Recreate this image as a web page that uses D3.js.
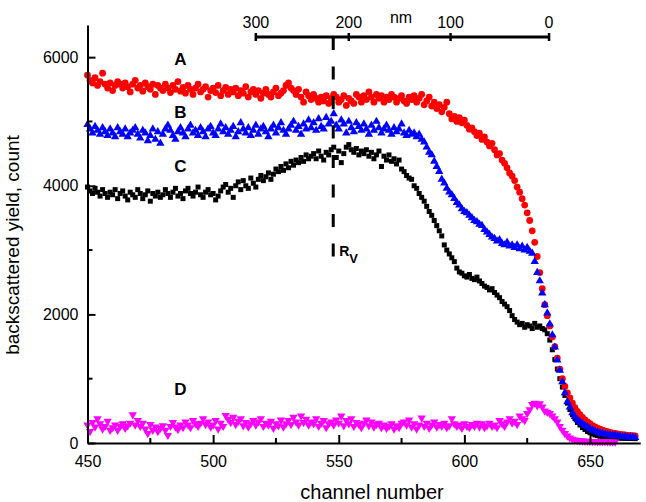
<!DOCTYPE html>
<head>
  <meta charset="utf-8">
  <style>
    body { margin: 0; background: #fff; }
    text { font-family: Arial, 'Liberation Sans', sans-serif; fill: black; }
    .axis path, .axis line { stroke: black; stroke-width: 2; }
    .axis text { font-size: 16px; }
  </style>
</head>
<body>
  <script src="https://cdn.jsdelivr.net/npm/d3@7"></script>
  <script>
    const width = 646;
    const height = 502;

    // channel where each series starts (one point per channel)
    const startChannel = 450;

    // A (red circles)
    const seriesA = [
      5720, 5640, 5600, 5680, 5560, 5620, 5750, 5580, 5520, 5600,
      5480, 5560, 5620, 5580, 5520, 5600, 5540, 5460, 5580, 5640,
      5520, 5560, 5470, 5600, 5540, 5500, 5580, 5420, 5560, 5520,
      5480, 5580, 5520, 5450, 5560, 5500, 5620, 5470, 5530, 5440,
      5560, 5500, 5420, 5520, 5580, 5460, 5500, 5540, 5380, 5480,
      5520, 5450, 5560, 5400, 5480, 5530, 5420, 5500, 5460, 5520,
      5400, 5480, 5440, 5540, 5380, 5460, 5500, 5420, 5480, 5360,
      5440, 5500, 5420, 5380, 5460, 5520, 5400, 5440, 5480, 5560,
      5600, 5520, 5480, 5420, 5500, 5380, 5300, 5460, 5400, 5340,
      5420, 5360, 5300, 5380, 5320, 5400, 5280, 5360, 5420, 5380,
      5300, 5340, 5400, 5250, 5360, 5320, 5280, 5420, 5380, 5300,
      5400, 5340, 5460, 5380, 5300, 5420, 5360, 5400, 5300, 5380,
      5340, 5420, 5380, 5300, 5360, 5400, 5320, 5280, 5380, 5340,
      5400, 5300, 5360, 5420, 5260, 5320, 5380, 5240, 5300, 5200,
      5260, 5150, 5220, 5300, 5120, 5040, 5080, 5000, 5060, 4980,
      5020, 4940, 4880, 4900, 4840, 4780, 4820, 4720, 4760, 4680,
      4620, 4660, 4560, 4480, 4500, 4400, 4350, 4280, 4200, 4150,
      4080, 3980, 3900, 3800, 3700, 3580, 3460, 3300, 3120, 2900,
      2650, 2400, 2150, 1980, 1820, 1650, 1500, 1320, 1150, 1000,
      880, 780, 700, 620, 550, 490, 440, 400, 360, 330,
      300, 270, 250, 230, 215, 200, 185, 175, 165, 155,
      150, 140, 135, 130, 125, 120, 120, 115, 110
    ];

    // B (blue triangles)
    const seriesB = [
      4950, 4880, 4820, 4920, 4860, 4800, 4900, 4840, 4780, 4880,
      4820, 4760, 4900, 4840, 4800, 4880, 4760, 4820, 4860, 4900,
      4800, 4740, 4860, 4820, 4700, 4780, 4880, 4720, 4840, 4660,
      4800, 4880, 4940, 4860, 4780, 4720, 4840, 4900, 4820, 4760,
      4880, 4940, 4820, 4860, 4780, 4900, 4840, 4760, 4880, 4920,
      4820, 4780, 4880, 4960, 4840, 4900, 4800, 4860, 4920, 4760,
      4840, 4980, 4880, 4820, 4900, 4780, 4860, 4940, 4800, 4880,
      4920, 4840, 4760, 4880, 4940, 4820, 4900, 4980, 4860, 4800,
      4880, 4940, 5000, 4860, 4920, 4800, 4960, 4880, 5020, 4900,
      4980, 4860, 5040, 4920, 4880, 5060, 4960, 5000, 5120, 4940,
      4880, 5020, 4960, 4820, 5000, 4900, 4840, 4980, 4920, 4860,
      4960, 4880, 4800, 4940, 4860, 5000, 4900, 4820, 4880, 4940,
      4860, 4800, 4900, 4840, 4880, 4960, 4820, 4780, 4860, 4800,
      4820, 4760, 4800, 4720, 4680, 4600, 4520, 4480, 4380, 4300,
      4220, 4100, 4040, 3960, 3900, 3860, 3800, 3740, 3700, 3640,
      3600, 3580, 3540, 3500, 3460, 3440, 3400, 3380, 3320, 3280,
      3240, 3200, 3180, 3140, 3160, 3100, 3080, 3120, 3060, 3080,
      3040, 3080, 3020, 3060, 3000, 3040, 2980, 2950, 2820, 2650,
      2520, 2330, 2150, 2020, 1850, 1680, 1490, 1290, 1130, 950,
      780, 640, 560, 470, 410, 360, 330, 300, 270, 250,
      220, 200, 185, 170, 155, 145, 135, 130, 125, 120,
      115, 110, 105, 100, 95, 92, 90, 88, 85
    ];

    // C (black squares)
    const seriesC = [
      3980, 3920, 3880, 3960, 3900, 3840, 3940, 3880, 3820, 3900,
      3860, 3940, 3800, 3880, 3920, 3840, 3780, 3900, 3860, 3820,
      3940, 3880, 3800, 3860, 3920, 3760, 3880, 3840, 3900, 3820,
      3860, 3940, 3880, 3820, 3900, 3960, 3840, 3880, 3800, 3920,
      3960, 3880, 3840, 3900, 3980, 3860, 3820, 3900, 3940, 3860,
      3880, 3780, 3840, 3920, 3980, 4020, 3900, 3960, 3820, 4000,
      4060, 3940, 4080, 4000, 3960, 4120, 4040, 3980, 4100, 4160,
      4080, 4140, 4200, 4100, 4180, 4260, 4220, 4300, 4240, 4340,
      4280, 4380, 4320, 4400, 4360, 4440, 4380, 4480, 4420, 4460,
      4500, 4420, 4540, 4460, 4400, 4520, 4480, 4560, 4600, 4440,
      4540, 4360, 4500, 4600, 4640, 4560, 4520, 4580, 4480, 4540,
      4500, 4560, 4460, 4520, 4420, 4480, 4540, 4300, 4460, 4400,
      4480, 4380, 4420, 4340, 4400, 4260, 4220, 4160, 4120, 4100,
      4000, 3960, 3880, 3820, 3760, 3680, 3600, 3540, 3460, 3380,
      3300, 3220, 3080, 3000, 2940, 2880, 2820, 2720, 2660, 2640,
      2600, 2580, 2620, 2560, 2540, 2580, 2520, 2480, 2440, 2420,
      2380, 2400, 2340, 2300, 2260, 2200, 2160, 2120, 2060, 1980,
      1920, 1880, 1840, 1860, 1800, 1840, 1820, 1780, 1860, 1800,
      1820, 1780, 1760, 1700, 1600, 1450, 1300, 1150, 1000, 870,
      740, 620, 520, 440, 380, 320, 280, 240, 210, 180,
      160, 140, 125, 115, 105, 100, 95, 90, 85, 82,
      80, 78, 76, 75, 74, 72, 70, 70, 68
    ];

    // D (magenta down triangles)
    const seriesD = [
      280, 180, 320, 250, 380, 300, 220, 260, 340, 200,
      240, 280, 200, 260, 300, 230, 270, 310, 440, 280,
      350, 260, 310, 220, 150, 290, 200, 250, 180, 230,
      270, 200, 120, 260, 320, 250, 210, 280, 240, 330,
      280, 240, 350, 300, 260, 310, 380, 290, 330, 250,
      280, 350, 220, 310, 260, 430, 370, 320, 400, 290,
      340, 380, 270, 320, 250, 300, 350, 280, 330, 380,
      260, 310, 280, 340, 230, 300, 270, 360, 250, 300,
      350, 290, 400, 330, 280, 420, 320, 370, 280, 330,
      300, 380, 260, 310, 350, 240, 300, 330, 280, 360,
      310, 420, 270, 350, 300, 380, 260, 320, 290, 240,
      310, 360, 270, 330, 250, 290, 310, 240, 280, 230,
      260, 300, 220, 270, 240, 310, 330, 280, 360, 250,
      300, 220, 280, 390, 260, 310, 230, 280, 330, 250,
      290, 260, 310, 240, 270, 380, 300, 260, 280, 230,
      300, 260, 240, 290, 260, 310, 250, 300, 240, 270,
      310, 260, 280, 240, 350, 300, 260, 330, 380, 310,
      340, 290, 420, 380, 350, 460, 520, 600, 620, 580,
      610, 560, 500, 480, 460, 420, 380, 330, 260, 200,
      150, 110, 80, 60, 50, 42, 36, 32, 30, 28,
      26, 25, 24, 22, 22, 20, 20, 20, 18, 18,
      18
    ];

    const seriesNames = ["A", "B", "C", "D"];
    const seriesColors = ["#ff0000", "#0000ff", "#000000", "#ff00ff"];
    // label anchor for each series name (channel, counts)
    const labelChannel = [487, 487, 487, 487];
    const labelCounts = [5880, 5050, 4210, 745];

    // ticks
    const xMajor = [450, 500, 550, 600, 650];
    const xMinor = [475, 525, 575, 625];
    const yMajor = [0, 2000, 4000, 6000];
    const yMinor = [1000, 3000, 5000];

    // depth scale on top (nm) and the channel each depth falls on
    const nmTicks = [300, 200, 100, 0];
    const nmChannels = [517, 554, 594.5, 633.7];
    const rvChannel = 547.8;
    const rvBottomCounts = 2880;

    const svg = d3.select("body").append("svg")
      .attr("width", width)
      .attr("height", height);

    const x = d3.scaleLinear().domain([450, 670]).range([87.5, 640.25]);
    const y = d3.scaleLinear().domain([0, 6500]).range([443, 25]);
    const nm = d3.scaleLinear().domain(nmTicks).range(nmChannels);
    const topAxisY = 37;

    const toPoints = (vals) => vals.map((v, i) => ({ ch: startChannel + i, v: v }));

    //-----------------------------MARKERS-----------------------------//
    const symA = d3.symbol().type(d3.symbolCircle).size(36);
    const symB = d3.symbol().type(d3.symbolTriangle).size(30);
    const symC = d3.symbol().type(d3.symbolSquare).size(25);
    const symD = d3.symbol().type(d3.symbolTriangle).size(30);

    function drawSeries(vals, sym, color, flip) {
      svg.append("g").selectAll("path")
        .data(toPoints(vals)).enter().append("path")
        .attr("d", sym)
        .attr("transform", d => "translate(" + x(d.ch) + "," + y(d.v) + ")" + (flip ? " rotate(180)" : ""))
        .style("fill", color);
    }

    drawSeries(seriesC, symC, seriesColors[2], false);
    drawSeries(seriesA, symA, seriesColors[0], false);
    drawSeries(seriesB, symB, seriesColors[1], false);
    drawSeries(seriesD, symD, seriesColors[3], true);

    //-----------------------------AXES-----------------------------//
    const xAxis = svg.append("g")
      .attr("class", "axis")
      .attr("transform", "translate(0," + y(0) + ")")
      .call(d3.axisBottom(x).tickValues(xMajor).tickSizeInner(-8).tickSizeOuter(0).tickPadding(13));
    xAxis.append("g").selectAll("line")
      .data(xMinor).enter().append("line")
      .attr("x1", d => x(d)).attr("x2", d => x(d))
      .attr("y1", 0).attr("y2", -5);

    const yAxis = svg.append("g")
      .attr("class", "axis")
      .attr("transform", "translate(" + x(450) + ",0)")
      .call(d3.axisLeft(y).tickValues(yMajor).tickFormat(d3.format("d"))
        .tickSizeInner(-8).tickSizeOuter(0).tickPadding(9));
    yAxis.append("g").selectAll("line")
      .data(yMinor).enter().append("line")
      .attr("x1", 0).attr("x2", 5)
      .attr("y1", d => y(d)).attr("y2", d => y(d));

    svg.append("text")
      .attr("x", 372)
      .attr("y", 499)
      .attr("text-anchor", "middle")
      .style("font-size", "20px")
      .text("channel number");

    svg.append("text")
      .attr("transform", "translate(19,245) rotate(-90)")
      .attr("text-anchor", "middle")
      .style("font-size", "19px")
      .text("backscattered yield, count");

    //-----------------------------DEPTH SCALE-----------------------------//
    const depth = svg.append("g");
    depth.append("line")
      .attr("x1", x(nm(300))).attr("x2", x(nm(0)))
      .attr("y1", topAxisY).attr("y2", topAxisY)
      .style("stroke", "black").style("stroke-width", 3);
    depth.selectAll(".nmtick")
      .data(nmTicks).enter().append("line")
      .attr("x1", d => x(nm(d))).attr("x2", d => x(nm(d)))
      .attr("y1", topAxisY - 4).attr("y2", topAxisY + 4)
      .style("stroke", "black").style("stroke-width", 2.5);
    depth.selectAll(".nmlabel")
      .data(nmTicks).enter().append("text")
      .attr("x", d => x(nm(d)))
      .attr("y", 28)
      .attr("text-anchor", "middle")
      .style("font-size", "16px")
      .text(d => d);
    depth.append("text")
      .attr("x", 401).attr("y", 23)
      .attr("text-anchor", "middle")
      .style("font-size", "16px")
      .text("nm");

    // R_V marker
    svg.append("line")
      .attr("x1", x(rvChannel)).attr("x2", x(rvChannel))
      .attr("y1", topAxisY).attr("y2", y(rvBottomCounts))
      .style("stroke", "black").style("stroke-width", 3)
      .style("stroke-dasharray", "13,16.5");
    const rv = svg.append("text")
      .attr("x", x(rvChannel) + 6)
      .attr("y", 256)
      .style("font-size", "14px")
      .style("font-weight", "bold");
    rv.append("tspan").text("R");
    rv.append("tspan").attr("dy", 7).style("font-size", "13px").text("V");

    // series names
    svg.append("g").selectAll("text")
      .data(seriesNames).enter().append("text")
      .attr("x", (d, i) => x(labelChannel[i]))
      .attr("y", (d, i) => y(labelCounts[i]))
      .attr("text-anchor", "middle")
      .style("font-size", "17px")
      .style("font-weight", "bold")
      .text(d => d);
  </script>
</body>
